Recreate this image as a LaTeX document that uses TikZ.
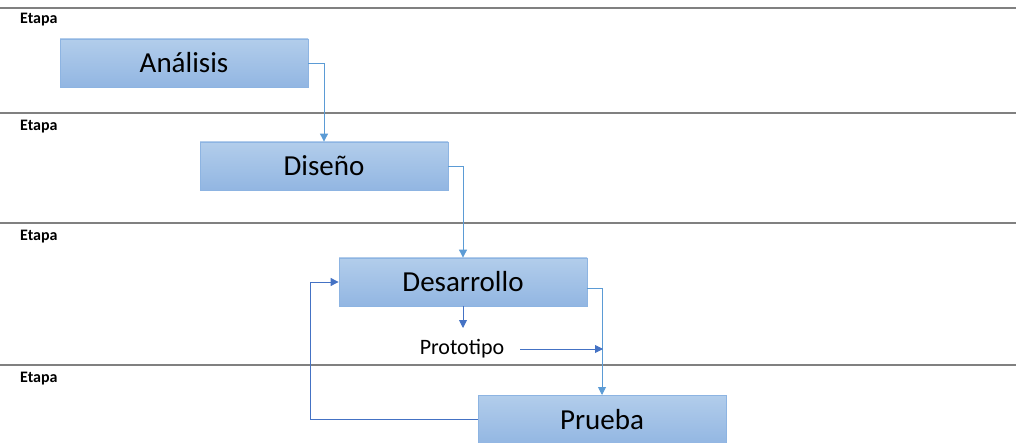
\documentclass[tikz,border=0pt]{standalone}
\usepackage{fontspec}
\setmainfont{Carlito}
\usetikzlibrary{arrows.meta}
\definecolor{boxtop}{RGB}{178,205,235}
\definecolor{boxbot}{RGB}{146,182,226}
\definecolor{boxline}{RGB}{141,180,226}
\definecolor{flowlight}{RGB}{91,155,213}
\definecolor{flowdark}{RGB}{68,114,196}
\definecolor{laneline}{RGB}{128,128,128}
\begin{document}
\begin{tikzpicture}[x=1pt,y=-1pt,
  stage/.style={draw=boxline,line width=0.8pt,top color=boxtop,bottom color=boxbot,
    minimum width=248pt,minimum height=48pt,inner sep=0pt,
    font=\fontsize{29}{34}\selectfont},
  lane/.style={draw=laneline,line width=1.3pt},
  lanelabel/.style={anchor=base west,font=\fontsize{16}{18}\selectfont\bfseries,inner sep=0pt},
  lightflow/.style={draw=flowlight,line width=0.9pt,-{Triangle[length=8pt,width=8pt]}},
  darkflow/.style={draw=flowdark,line width=0.9pt,-{Triangle[length=8pt,width=8pt]}}]
\useasboundingbox (0,0) rectangle (1016,443);
% swimlane separators
\draw[lane] (0,8) -- (1016,8);
\draw[lane] (0,113) -- (1016,113);
\draw[lane] (0,223) -- (1016,223);
\draw[lane] (0,365) -- (1016,365);
\node[lanelabel] (l1) at (20,24) {Etapa};
\node[lanelabel] (l2) at (20,131) {Etapa};
\node[lanelabel] (l3) at (20,241) {Etapa};
\node[lanelabel] (l4) at (20,382) {Etapa};
% stages
\begin{scope}
\clip (0,0) rectangle (1016,443);
\node[stage] (ana) at (184,63) {Análisis};
\node[stage] (dis) at (324,166) {Diseño};
\node[stage] (des) at (463,282) {Desarrollo};
\node[stage,minimum height=50pt] (pru) at (602,420) {Prueba};
\end{scope}
\node[font=\fontsize{22}{26}\selectfont,inner sep=0pt] (pro) at (462,349) {Prototipo};
\coordinate (protoend) at (520,349);
% flow between stages
\draw[lightflow] (ana.east |- 0,63) -| (dis.north);
\draw[lightflow] (dis.east |- 0,166) -| (des.north);
\draw[lightflow] (des.east |- 0,288) -| (602,395);
\draw[darkflow] (des.south) -- (463,328);
\draw[darkflow] (protoend) -- (603,349);
\draw[darkflow] (pru.west |- 0,419) -- (310,419) |- (des.west);
\end{tikzpicture}
\end{document}
